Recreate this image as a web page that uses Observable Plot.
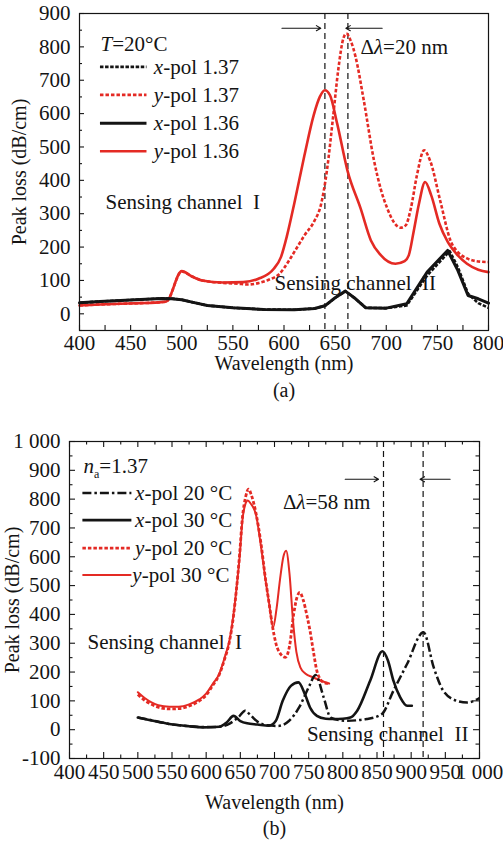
<!DOCTYPE html>
<html><head><meta charset="utf-8">
<script src="https://cdn.jsdelivr.net/npm/d3@7"></script>
<script src="https://cdn.jsdelivr.net/npm/@observablehq/plot@0.6"></script>
<style>
body{margin:0;background:#fff;}
#wrap{position:relative;width:503px;height:841px;background:#fff;}
#pa{position:absolute;left:0;top:0;}
#pb{position:absolute;left:0;top:420px;}
#wrap svg, #wrap svg text, #wrap svg tspan{font-family:"Liberation Serif","DejaVu Serif",serif !important;}
</style></head><body><div id="wrap"><div id="pa"></div><div id="pb"></div></div>
<script>
// ---------- Panel (a) data: [wavelength nm, peak loss dB/cm] ----------
const aXpol137 = [[400,33],[420,37],[440,40],[460,43],[480,46],[490,46],[500,42],[510,35],[525,25],[550,18],[580,13],[610,12],[630,16],[640,24],[650,48],[660,68],[670,45],[680,18],[700,17],[720,25],[740,115],[762,188],[770,140],[780,60],[790,32],[800,18]];
const aYpol137 = [[400,25],[420,28],[440,30],[460,32],[480,35],[485,37],[500,127],[510,112],[520,100],[540,93],[555,90],[565,88],[575,92],[585,102],[595,118],[605,160],[612,195],[620,235],[630,280],[636,325],[642,430],[648,590],[653,730],[658,825],[661,840],[665,820],[670,770],[678,640],[688,460],[695,370],[701,316],[708,272],[714,258],[719,265],[724,315],[730,415],[737,490],[743,458],[753,336],[763,218],[770,185],[779,166],[790,157],[800,155]];
const aXpol136 = [[400,33],[420,37],[440,40],[460,43],[480,46],[490,45],[500,42],[510,35],[525,25],[550,18],[580,13],[610,12],[630,16],[640,24],[650,48],[660,68],[670,45],[680,18],[700,17],[720,30],[740,125],[760,190],[770,130],[780,55],[790,45],[800,32]];
const aYpol136 = [[400,25],[420,28],[440,30],[460,32],[480,35],[485,37],[500,128],[510,112],[520,100],[540,94],[560,95],[575,105],[590,135],[597,170],[603,235],[610,330],[620,475],[629,595],[635,650],[640,670],[645,655],[652,570],[662,430],[675,315],[685,220],[694,178],[709,150],[718,158],[722,175],[727,250],[732,330],[738,395],[744,355],[752,270],[760,216],[770,175],[779,150],[790,132],[800,125]];

// ---------- Panel (b) data ----------
const bXpol20 = [[500,42],[520,33],[546,20],[575,12],[600,9],[620,10],[635,22],[648,45],[657,66],[665,50],[675,28],[690,15],[705,13],[721,30],[736,77],[751,152],[760,190],[772,112],[782,42],[795,33],[806,31],[835,37],[857,54],[874,135],[894,228],[918,338],[933,216],[947,135],[967,100],[982,94],[1000,110]];
const bXpol30 = [[500,42],[520,32],[546,20],[575,12],[595,8],[619,10],[630,25],[640,48],[650,30],[660,22],[675,18],[692,14],[702,31],[712,100],[724,152],[735,164],[745,120],[752,77],[762,48],[775,38],[786,37],[800,38],[811,42],[821,66],[840,170],[858,272],[866,240],[874,170],[884,112],[894,83],[901,83]];
const bYpol20 = [[500,122],[510,102],[520,88],[530,78],[546,72],[560,73],[575,82],[590,100],[600,120],[610,155],[619,190],[627,245],[634,305],[640,395],[644,480],[649,610],[653,735],[658,810],[662,835],[666,815],[673,750],[680,650],[687,520],[692,440],[697,360],[702,300],[709,262],[716,251],[722,290],[728,400],[733,460],[737,476],[742,450],[748,390],[752,343],[757,270],[762,204],[767,175],[772,164],[780,160]];
const bYpol30 = [[500,130],[510,110],[520,95],[530,85],[546,80],[560,80],[575,88],[590,105],[600,125],[610,160],[619,193],[627,250],[634,309],[640,400],[644,482],[649,600],[653,725],[657,780],[661,795],[665,785],[673,745],[680,640],[687,517],[692,440],[698,355],[703,420],[708,520],[713,600],[717,621],[722,540],[727,380],[732,270],[738,215],[745,195],[757,181],[770,168],[780,160]];

// ---------- tick values ----------
const aXticks = [400,450,500,550,600,650,700,750,800];
const aXminor = [425,475,525,575,625,675,725,775];
const aYticks = [0,100,200,300,400,500,600,700,800,900];
const aYminor = [-50,50,150,250,350,450,550,650,750,850];
const bXticks = [400,450,500,550,600,650,700,750,800,850,900,950,1000];
const bXminor = [425,475,525,575,625,675,725,775,825,875,925,975];
const bYticks = [-100,0,100,200,300,400,500,600,700,800,900,1000];
const bYminor = [-50,50,150,250,350,450,550,650,750,850,950];

// ---------- annotations ----------
const aLegendLabels = ["*x*-pol 1.37","*y*-pol 1.37","*x*-pol 1.36","*y*-pol 1.36"];
const aLegendY = [740,656,571,487];
const aLegendLineX = [420.5,466];
const aLegendTextX = [472.7,472.7,472.7,472.7];
const aNotes = [
  {x:420.5,y:808,t:"*T*=20°C"},
  {x:674.8,y:798,t:"Δ*λ*=20 nm"},
  {x:425.4,y:334,t:"Sensing channel\u00a0 I"},
  {x:590.7,y:91.6,t:"Sensing channel\u00a0 II"}
];
const aShift = [640,662.5];
const aArrows = [{x1:598,x2:636,y:856},{x1:696,x2:660.5,y:856}];

const bLegendLabels = ["*x*-pol 20 °C","*x*-pol 30 °C","*y*-pol 20 °C","*y*-pol 30 °C"];
const bLegendY = [821,727,630,537];
const bLegendLineX = [419.6,491.3];
const bLegendTextX = [496,496,496,492];
const bNotes = [
  {x:420.5,y:915,t:"*n*_{a}=1.37"},
  {x:712.3,y:788,t:"Δ*λ*=58 nm"},
  {x:426.3,y:302,t:"Sensing channel\u00a0 I"},
  {x:747.4,y:-15,t:"Sensing channel\u00a0 II"}
];
const bShift = [859.5,917.5];
const bArrows = [{x1:803.5,x2:852.3,y:869},{x1:957,x2:913,y:869}];

// ---------- styles ----------
const RED = "#e42a24", BLK = "#141414";
const FONT = '"Liberation Serif", serif';
const aStyles = [
  {stroke:BLK,strokeWidth:2.6,strokeDasharray:"3.5,1.6",strokeLinecap:"butt"},
  {stroke:RED,strokeWidth:2.6,strokeDasharray:"3.5,2",strokeLinecap:"butt"},
  {stroke:BLK,strokeWidth:3},
  {stroke:RED,strokeWidth:2.6}
];
const bStyles = [
  {stroke:BLK,strokeWidth:2.5,strokeDasharray:"9,3,2.5,3",strokeLinecap:"butt"},
  {stroke:BLK,strokeWidth:2.6},
  {stroke:RED,strokeWidth:2.8,strokeDasharray:"3.5,2",strokeLinecap:"butt"},
  {stroke:RED,strokeWidth:2}
];

const fmt = d => d < 0 ? "-" + Math.abs(d) : (d >= 1000 ? (Math.floor(d/1000) + "\u00a0" + String(d%1000).padStart(3,"0")) : String(d));

function legendMarks(labels, ys, lineX, textX, styles) {
  const out = [];
  labels.forEach((lab, i) => {
    out.push(Plot.ruleY([ys[i]], {x1: lineX[0], x2: lineX[1], ...styles[i]}));
  });
  out.push(Plot.text(labels.map((t,i)=>({t, x:textX[i], y:ys[i]})), {x:"x", y:"y", text:"t", textAnchor:"start", lineAnchor:"middle", fontSize:21, fill:BLK}));
  return out;
}

// inward ticks drawn with tick marks inset to a fixed pixel length
function inTicks(vals, side, len, fw, fh) {
  const o = {stroke:BLK, strokeWidth:1.1};
  if (side === "left") return Plot.tickY(vals, {...o, insetRight: fw - len});
  if (side === "right") return Plot.tickY(vals, {...o, insetLeft: fw - len});
  if (side === "bottom") return Plot.tickX(vals, {...o, insetTop: fh - len});
  return Plot.tickX(vals, {...o, insetBottom: fh - len});
}

function richify(svg) {
  const NS = "http://www.w3.org/2000/svg";
  svg.querySelectorAll("text").forEach(t => {
    if (t.querySelector("tspan")) return;
    const s = t.textContent;
    if (!/[*]|_\{/.test(s)) return;
    t.textContent = "";
    const re = /\*([^*]+)\*|_\{([^}]+)\}|([^*]+?)(?=\*|_\{|$)/g;
    let m, lowered = false;
    while ((m = re.exec(s)) && m[0].length) {
      const ts = document.createElementNS(NS, "tspan");
      if (m[1] !== undefined) { ts.textContent = m[1]; ts.setAttribute("font-style","italic"); }
      else if (m[2] !== undefined) { ts.textContent = m[2]; ts.setAttribute("font-size","12"); ts.setAttribute("dy","5"); lowered = true; }
      else { ts.textContent = m[3]; }
      if (lowered && m[2] === undefined) { ts.setAttribute("dy","-5"); lowered = false; }
      t.appendChild(ts);
    }
  });
}

// ---------- Panel (a) ----------
const AW = 503, AH = 405, AML = 79, AMR = 15, AMT = 13, AMB = 75;
const afw = AW - AML - AMR, afh = AH - AMT - AMB;
const plotA = Plot.plot({
  width:AW, height:AH, marginLeft:AML, marginRight:AMR, marginTop:AMT, marginBottom:AMB,
  style:{fontFamily:FONT, fontSize:"21px", color:BLK, background:"white", overflow:"visible"},
  x:{domain:[400,800]}, y:{domain:[-50,900]},
  marks:[
    Plot.axisX(aXticks, {tickSize:0, tickPadding:5, fontSize:21, label:null, tickFormat:fmt, fontFamily:FONT}),
    Plot.axisY(aYticks, {tickSize:0, tickPadding:9, fontSize:21, label:null, tickFormat:fmt, fontFamily:FONT}),
    inTicks(aXticks, "bottom", 5, afw, afh),
    inTicks(aXminor, "bottom", 5, afw, afh),
    inTicks(aYticks, "left", 5, afw, afh),
    inTicks(aYminor, "left", 3, afw, afh),
    Plot.ruleX(aShift, {stroke:BLK, strokeWidth:1.2, strokeDasharray:"6,4"}),
    Plot.line(aYpol137, {x:d=>d[0], y:d=>d[1], curve:"monotone-x", ...aStyles[1]}),
    Plot.line(aYpol136, {x:d=>d[0], y:d=>d[1], curve:"monotone-x", ...aStyles[3]}),
    Plot.line(aXpol137, {x:d=>d[0], y:d=>d[1], curve:"linear", ...aStyles[0]}),
    Plot.line(aXpol136, {x:d=>d[0], y:d=>d[1], curve:"linear", ...aStyles[2]}),
    Plot.frame({stroke:BLK, strokeWidth:1.2}),
    Plot.arrow(aArrows, {x1:"x1", x2:"x2", y1:"y", y2:"y", stroke:BLK, strokeWidth:1.1, headLength:7}),
    Plot.text(aNotes, {x:"x", y:"y", text:"t", textAnchor:"start", lineAnchor:"middle", fontSize:21, fill:BLK}),
    ...legendMarks(aLegendLabels, aLegendY, aLegendLineX, aLegendTextX, aStyles),
    Plot.text(["Wavelength (nm)"], {text:d=>d, frameAnchor:"bottom", dy:33, fontSize:20, lineAnchor:"middle", textAnchor:"middle", fill:BLK}),
    Plot.text(["(a)"], {text:d=>d, frameAnchor:"bottom", dy:60, fontSize:20, lineAnchor:"middle", textAnchor:"middle", fill:BLK}),
    Plot.text(["Peak loss (dB/cm)"], {text:d=>d, frameAnchor:"left", dx:-59.5, rotate:-90, fontSize:20, lineAnchor:"middle", textAnchor:"middle", fill:BLK})
  ]
});
richify(plotA);
document.getElementById("pa").appendChild(plotA);

// ---------- Panel (b) ----------
const BW = 503, BH = 421, BML = 69, BMR = 24, BMT = 21, BMB = 83;
const bfw = BW - BML - BMR, bfh = BH - BMT - BMB;
const plotB = Plot.plot({
  width:BW, height:BH, marginLeft:BML, marginRight:BMR, marginTop:BMT, marginBottom:BMB,
  style:{fontFamily:FONT, fontSize:"21px", color:BLK, background:"white", overflow:"visible"},
  x:{domain:[400,1000]}, y:{domain:[-100,1000]},
  marks:[
    Plot.axisX(bXticks, {tickSize:0, tickPadding:6, fontSize:21, label:null, tickFormat:fmt, fontFamily:FONT}),
    Plot.axisY(bYticks, {tickSize:0, tickPadding:9, fontSize:21, label:null, tickFormat:fmt, fontFamily:FONT}),
    inTicks(bXticks, "bottom", 6, bfw, bfh),
    inTicks(bXminor, "bottom", 3.5, bfw, bfh),
    inTicks(bXticks, "top", 6, bfw, bfh),
    inTicks(bXminor, "top", 3.5, bfw, bfh),
    inTicks(bYticks, "left", 6, bfw, bfh),
    inTicks(bYminor, "left", 3.5, bfw, bfh),
    inTicks(bYticks, "right", 6, bfw, bfh),
    inTicks(bYminor, "right", 3.5, bfw, bfh),
    Plot.ruleX(bShift, {stroke:BLK, strokeWidth:1.2, strokeDasharray:"6,4"}),
    Plot.line(bYpol20, {x:d=>d[0], y:d=>d[1], curve:"monotone-x", ...bStyles[2]}),
    Plot.line(bYpol30, {x:d=>d[0], y:d=>d[1], curve:"monotone-x", ...bStyles[3]}),
    Plot.line(bXpol20, {x:d=>d[0], y:d=>d[1], curve:"monotone-x", ...bStyles[0]}),
    Plot.line(bXpol30, {x:d=>d[0], y:d=>d[1], curve:"monotone-x", ...bStyles[1]}),
    Plot.frame({stroke:BLK, strokeWidth:1.2}),
    Plot.arrow(bArrows, {x1:"x1", x2:"x2", y1:"y", y2:"y", stroke:BLK, strokeWidth:1.1, headLength:7}),
    Plot.text(bNotes, {x:"x", y:"y", text:"t", textAnchor:"start", lineAnchor:"middle", fontSize:21, fill:BLK}),
    ...legendMarks(bLegendLabels, bLegendY, bLegendLineX, bLegendTextX, bStyles),
    Plot.text(["Wavelength (nm)"], {text:d=>d, frameAnchor:"bottom", dy:44, fontSize:20, lineAnchor:"middle", textAnchor:"middle", fill:BLK}),
    Plot.text(["(b)"], {text:d=>d, frameAnchor:"bottom", dy:70.5, fontSize:20, lineAnchor:"middle", textAnchor:"middle", fill:BLK}),
    Plot.text(["Peak loss (dB/cm)"], {text:d=>d, frameAnchor:"left", dx:-57, rotate:-90, fontSize:20, lineAnchor:"middle", textAnchor:"middle", fill:BLK})
  ]
});
richify(plotB);
document.getElementById("pb").appendChild(plotB);
</script>
</body></html>
